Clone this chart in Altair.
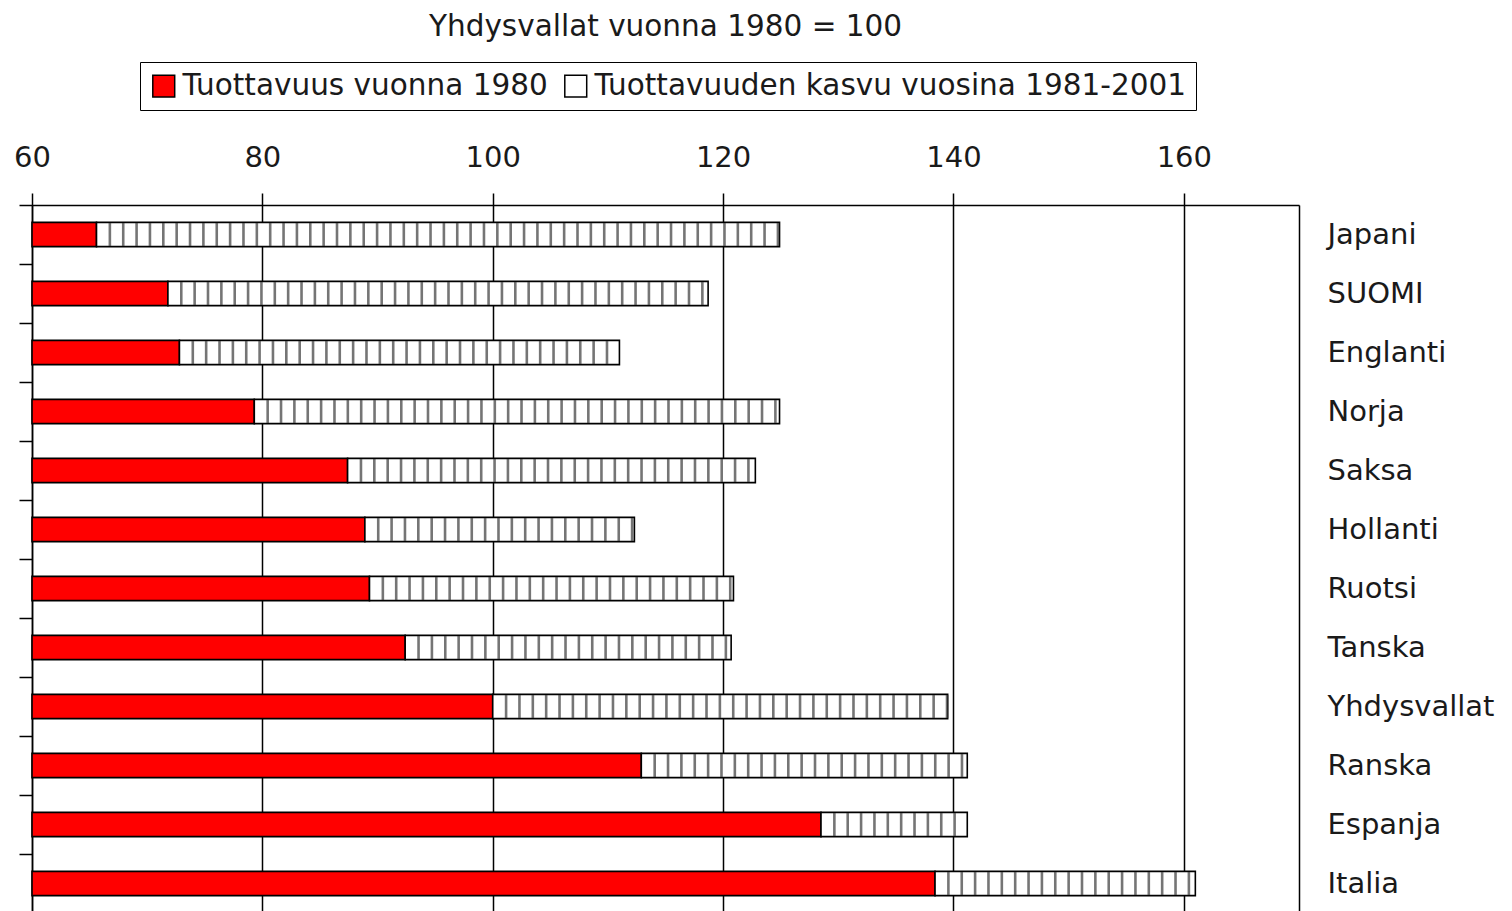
import altair as alt
import pandas as pd

countries = ["Japani", "SUOMI", "Englanti", "Norja", "Saksa", "Hollanti",
             "Ruotsi", "Tanska", "Yhdysvallat", "Ranska", "Espanja", "Italia"]
level_1980 = [65.6, 71.8, 72.8, 79.3, 87.4, 88.9, 89.3, 92.4, 100.0, 112.9, 128.5, 138.4]
level_2001 = [124.9, 118.7, 111.0, 124.9, 122.8, 112.3, 120.9, 120.7, 139.5, 141.2, 141.2, 161.0]
series = ["Tuottavuus vuonna 1980", "Tuottavuuden kasvu vuosina 1981-2001"]
x_ticks = [60, 80, 100, 120, 140, 160]
x_max = 170

rows = []
for c, a, b in zip(countries, level_1980, level_2001):
    rows.append({"maa": c, "sarja": series[0], "lo": x_ticks[0], "hi": a})
    rows.append({"maa": c, "sarja": series[1], "lo": a, "hi": b})
df = pd.DataFrame(rows)

FONT = "DejaVu Sans"
TXT = "#1a1a1a"

xscale = alt.Scale(domain=[x_ticks[0], x_max], nice=False, zero=False)
yscale = alt.Scale(domain=countries, paddingInner=0.59, paddingOuter=0.295)

base = alt.Chart(df)

bars = base.mark_bar(stroke="black", strokeWidth=1.6).encode(
    x=alt.X("lo:Q", scale=xscale, title=None,
            axis=alt.Axis(orient="top", values=x_ticks, grid=True, gridColor="black",
                          gridWidth=1.5, tickColor="black", tickSize=12, tickWidth=1.5,
                          domainColor="black", domainWidth=1.5, labelFontSize=29,
                          labelFont=FONT, labelColor=TXT, labelFlush=False,
                          labelPadding=21)),
    x2="hi:Q",
    y=alt.Y("maa:N", scale=yscale, sort=countries, title=None,
            axis=alt.Axis(orient="left", labels=False, bandPosition=0.5, tickOffset=-29.5,
                          tickSize=13,
                          tickColor="black", tickWidth=1.5, domainColor="black",
                          domainWidth=1.5)),
    color=alt.Color("sarja:N", title=None,
                    scale=alt.Scale(domain=series, range=["#ff0000", "#ffffff"]),
                    legend=alt.Legend(orient="none", legendX=108, legendY=-143,
                                      direction="horizontal",
                                      strokeColor="black", padding=9,
                                      symbolType="square", symbolSize=480,
                                      symbolStrokeColor="black", symbolStrokeWidth=1.5,
                                      labelFontSize=29.5, labelFont=FONT, labelColor=TXT,
                                      columnPadding=13, labelLimit=800)),
)

stripes = base.transform_filter(
    alt.datum.sarja == series[1]
).transform_calculate(
    s="sequence(datum.lo + 1.16, datum.hi, 1.16)"
).transform_flatten(["s"]).mark_tick(
    color="#3a3a3a", thickness=2.6, size=23
).encode(
    x=alt.X("s:Q", scale=xscale, title=None),
    y=alt.Y("maa:N", scale=yscale, sort=countries, axis=None),
)

right_labels = base.mark_bar(opacity=0).encode(
    y=alt.Y("maa:N", scale=yscale, sort=countries, title=None,
            axis=alt.Axis(orient="right", ticks=False, domain=True, domainColor="black",
                          domainWidth=1.5, labelFontSize=29,
                          labelFont=FONT, labelColor=TXT, labelPadding=28)),
)

chart = alt.layer(bars, stripes, right_labels).resolve_axis(y="independent").properties(
    width=1267, height=708,
    padding={"left": 5, "top": 4, "right": 5, "bottom": 5},
    title=alt.Title("Yhdysvallat vuonna 1980 = 100", fontSize=29.5, font=FONT,
                    color=TXT, fontWeight="normal", anchor="middle", offset=19),
).configure_view(stroke="#000000", strokeWidth=1.5).configure(background="white")

chart.save("out.html", embed_options={"renderer": "svg", "actions": False})
